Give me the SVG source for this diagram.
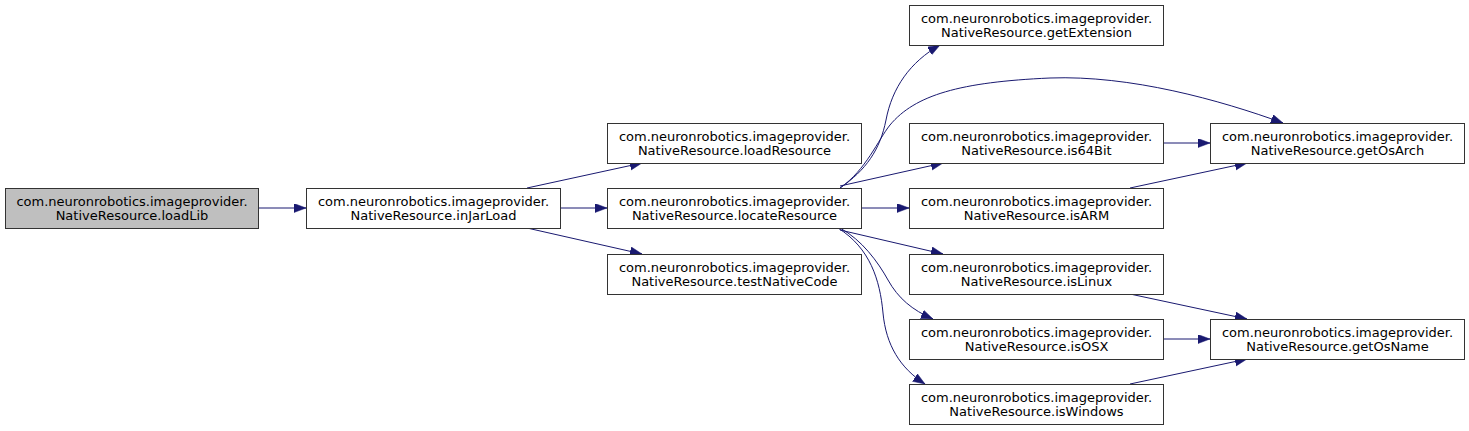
<svg xmlns="http://www.w3.org/2000/svg" width="1469" height="431" viewBox="0 0 1469 431">
<style>
.n rect{fill:#ffffff;stroke:#333333;stroke-width:1}
.n.cur rect{fill:#bfbfbf}
.n text{font-family:"DejaVu Sans",sans-serif;font-size:13px;fill:#000000;text-anchor:middle}
.e path{fill:none;stroke:#191970;stroke-width:1;marker-end:url(#ah)}
</style>
<defs>
<marker id="ah" markerUnits="userSpaceOnUse" markerWidth="13" markerHeight="10" refX="12" refY="4.5" orient="auto">
<path d="M0,0 L12,4.5 L0,9 z" fill="#191970" stroke="#191970" stroke-width="0.5"/>
</marker>
</defs>
<rect x="0" y="0" width="1469" height="431" fill="#ffffff"/>
<g id="edges" class="e">
<path d="M258,208 L306,208"/>
<path d="M527,188 L642,163"/>
<path d="M560,208 L607,208"/>
<path d="M527,228 L642,254"/>
<path d="M840,188 C866,170 880,150 886,120 C892,88 910,62 940,45"/>
<path d="M840,188 C866,170 878,140 890,125 C915,95 960,82 1050,78 C1130,75 1220,100 1283,123"/>
<path d="M840,186 L943,163"/>
<path d="M861,208 L909,208"/>
<path d="M840,230 L943,254"/>
<path d="M840,228 C862,240 878,262 888,280 C898,298 912,310 933,319"/>
<path d="M838,228 C870,248 880,280 883,313 C886,345 900,368 925,384"/>
<path d="M1163,143 L1210,143"/>
<path d="M1130,188 L1247,163"/>
<path d="M1130,294 L1247,319"/>
<path d="M1163,339 L1210,339"/>
<path d="M1130,384 L1247,359"/>
</g>
<g id="loadLib" class="n cur"><rect x="5.5" y="188.5" width="253" height="40"/><text x="132" y="205.5">com.neuronrobotics.imageprovider.</text><text x="132" y="219.5">NativeResource.loadLib</text></g>
<g id="inJarLoad" class="n"><rect x="306.5" y="188.5" width="254" height="40"/><text x="433.5" y="205.5">com.neuronrobotics.imageprovider.</text><text x="433.5" y="219.5">NativeResource.inJarLoad</text></g>
<g id="loadResource" class="n"><rect x="607.5" y="123.5" width="254" height="40"/><text x="734.5" y="140.5">com.neuronrobotics.imageprovider.</text><text x="734.5" y="154.5">NativeResource.loadResource</text></g>
<g id="locateResource" class="n"><rect x="607.5" y="188.5" width="254" height="40"/><text x="734.5" y="205.5">com.neuronrobotics.imageprovider.</text><text x="734.5" y="219.5">NativeResource.locateResource</text></g>
<g id="testNativeCode" class="n"><rect x="607.5" y="254.5" width="254" height="40"/><text x="734.5" y="271.5">com.neuronrobotics.imageprovider.</text><text x="734.5" y="285.5">NativeResource.testNativeCode</text></g>
<g id="getExtension" class="n"><rect x="909.5" y="5.5" width="254" height="40"/><text x="1036.5" y="22.5">com.neuronrobotics.imageprovider.</text><text x="1036.5" y="36.5">NativeResource.getExtension</text></g>
<g id="is64Bit" class="n"><rect x="909.5" y="123.5" width="254" height="40"/><text x="1036.5" y="140.5">com.neuronrobotics.imageprovider.</text><text x="1036.5" y="154.5">NativeResource.is64Bit</text></g>
<g id="isARM" class="n"><rect x="909.5" y="188.5" width="254" height="40"/><text x="1036.5" y="205.5">com.neuronrobotics.imageprovider.</text><text x="1036.5" y="219.5">NativeResource.isARM</text></g>
<g id="isLinux" class="n"><rect x="909.5" y="254.5" width="254" height="40"/><text x="1036.5" y="271.5">com.neuronrobotics.imageprovider.</text><text x="1036.5" y="285.5">NativeResource.isLinux</text></g>
<g id="isOSX" class="n"><rect x="909.5" y="319.5" width="254" height="40"/><text x="1036.5" y="336.5">com.neuronrobotics.imageprovider.</text><text x="1036.5" y="350.5">NativeResource.isOSX</text></g>
<g id="isWindows" class="n"><rect x="909.5" y="384.5" width="254" height="40"/><text x="1036.5" y="401.5">com.neuronrobotics.imageprovider.</text><text x="1036.5" y="415.5">NativeResource.isWindows</text></g>
<g id="getOsArch" class="n"><rect x="1210.5" y="123.5" width="254" height="40"/><text x="1337.5" y="140.5">com.neuronrobotics.imageprovider.</text><text x="1337.5" y="154.5">NativeResource.getOsArch</text></g>
<g id="getOsName" class="n"><rect x="1210.5" y="319.5" width="254" height="40"/><text x="1337.5" y="336.5">com.neuronrobotics.imageprovider.</text><text x="1337.5" y="350.5">NativeResource.getOsName</text></g>
</svg>
